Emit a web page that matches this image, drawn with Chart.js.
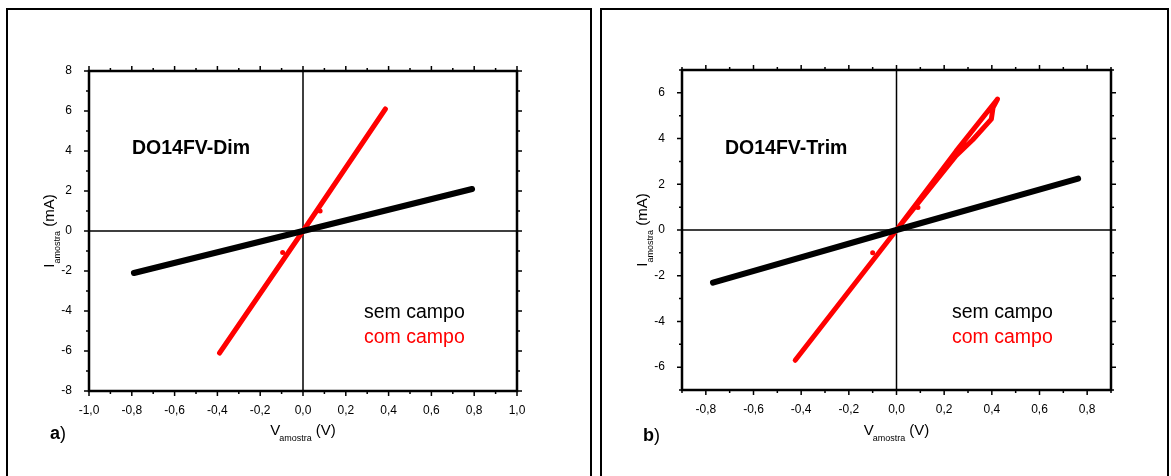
<!DOCTYPE html>
<html>
<head>
<meta charset="utf-8">
<script src="https://cdn.jsdelivr.net/npm/chart.js@4.4.1/dist/chart.umd.min.js"></script>
<style>
body { margin: 0; background: #fff; width: 1171px; height: 476px; overflow: hidden; position: relative; }
.frame { position: absolute; top: 8px; height: 480px; border: 2px solid #000; }
#fa { left: 6px; width: 582px; }
#fb { left: 600px; width: 565px; }
canvas { display: block; }
</style>
</head>
<body>
<div class="frame" id="fa"><canvas id="chartA" width="582" height="466"></canvas></div>
<div class="frame" id="fb"><canvas id="chartB" width="565" height="466"></canvas></div>
<script>
// panel a) DO14FV-Dim
const semCampoA_V = [-0.79, 0, 0.79];
const semCampoA_I = [-2.1, 0, 2.1];
const comCampoA_V = [-0.39, 0, 0.385];
const comCampoA_I = [-6.1, 0, 6.1];
const stubsA_V = [0.08, -0.095];
const stubsA_I = [1.0, -1.08];

// panel b) DO14FV-Trim
const semCampoB_V = [-0.77, 0, 0.762];
const semCampoB_I = [-2.3, 0, 2.25];
const comCampoB_V = [-0.425, 0, 0.25, 0.424, 0.405, 0.398, 0.32, 0.25, 0, -0.425];
const comCampoB_I = [-5.7, 0, 3.45, 5.73, 5.35, 4.85, 3.95, 3.25, 0, -5.7];
const stubsB_V = [0.09, -0.1];
const stubsB_I = [0.98, -1.0];

// tick labels
const xMajorA = [-1.0, -0.8, -0.6, -0.4, -0.2, 0.0, 0.2, 0.4, 0.6, 0.8, 1.0];
const xMinorA = [-0.9, -0.7, -0.5, -0.3, -0.1, 0.1, 0.3, 0.5, 0.7, 0.9];
const yMajorA = [-8, -6, -4, -2, 0, 2, 4, 6, 8];
const yMinorA = [-7, -5, -3, -1, 1, 3, 5, 7];
const xMajorB = [-0.8, -0.6, -0.4, -0.2, 0.0, 0.2, 0.4, 0.6, 0.8];
const xMinorB = [-0.9, -0.7, -0.5, -0.3, -0.1, 0.1, 0.3, 0.5, 0.7, 0.9];
const yMajorB = [-6, -4, -2, 0, 2, 4, 6];
const yMinorB = [-7, -5, -3, -1, 1, 3, 5, 7];

const FONT = '"Liberation Sans", Arial, sans-serif';
Chart.defaults.font.family = FONT;
Chart.defaults.color = '#000';

function zip(xs, ys) {
  return xs.map((x, i) => ({ x: x, y: ys[i] }));
}

function font(size, bold) {
  return (bold ? 'bold ' : '') + size + 'px ' + FONT;
}

// zero lines, box with ticks on all sides, and the texts
const decor = {
  id: 'decor',
  beforeDatasetsDraw(chart, args, p) {
    const { ctx, chartArea: a, scales: { x, y } } = chart;
    const x0 = x.getPixelForValue(0), y0 = y.getPixelForValue(0);
    ctx.save();
    ctx.strokeStyle = '#000';
    ctx.lineWidth = 1.5;
    ctx.beginPath();
    ctx.moveTo(a.left, y0); ctx.lineTo(a.right, y0);
    ctx.moveTo(x0, a.top); ctx.lineTo(x0, a.bottom);
    ctx.stroke();
    ctx.restore();
  },
  afterDraw(chart, args, p) {
    const { ctx, chartArea: a, scales: { x, y } } = chart;
    ctx.save();
    ctx.strokeStyle = '#000';
    ctx.lineWidth = 1.5;
    ctx.beginPath();
    const tick = (vals, len) => {
      vals.forEach(v => {
        const px = x.getPixelForValue(v);
        ctx.moveTo(px, a.bottom); ctx.lineTo(px, a.bottom + len);
        ctx.moveTo(px, a.top); ctx.lineTo(px, a.top - len);
      });
    };
    const ticky = (vals, len) => {
      vals.forEach(v => {
        const py = y.getPixelForValue(v);
        ctx.moveTo(a.left, py); ctx.lineTo(a.left - len, py);
        ctx.moveTo(a.right, py); ctx.lineTo(a.right + len, py);
      });
    };
    tick(p.xMajor, 5); tick(p.xMinor, 3);
    ticky(p.yMajor, 5); ticky(p.yMinor, 3);
    ctx.stroke();
    ctx.lineWidth = 2.5;
    ctx.strokeRect(a.left, a.top, a.right - a.left, a.bottom - a.top);

    ctx.fillStyle = '#000';
    ctx.textBaseline = 'alphabetic';
    ctx.textAlign = 'left';

    // x title: V_amostra (V)
    const parts = (main1, sub, main2) => {
      ctx.font = font(15); const w1 = ctx.measureText(main1).width;
      ctx.font = font(9); const ws = ctx.measureText(sub).width;
      ctx.font = font(15); const w2 = ctx.measureText(main2).width;
      return [w1, ws, w2];
    };
    let [w1, ws, w2] = parts('V', 'amostra', ' (V)');
    let total = w1 - 1 + ws + w2;
    let sx = (a.left + a.right) / 2 - total / 2;
    ctx.font = font(15); ctx.fillText('V', sx, p.xTitleY);
    ctx.font = font(9); ctx.fillText('amostra', sx + w1 - 1, p.xTitleY + 6);
    ctx.font = font(15); ctx.fillText(' (V)', sx + w1 - 1 + ws, p.xTitleY);

    // y title: I_amostra (mA), rotated
    [w1, ws, w2] = parts('I', 'amostra', ' (mA)');
    total = w1 + ws + w2;
    ctx.save();
    ctx.translate(p.yTitleX, (a.top + a.bottom) / 2);
    ctx.rotate(-Math.PI / 2);
    sx = -total / 2;
    ctx.font = font(15); ctx.fillText('I', sx, 0);
    ctx.font = font(9); ctx.fillText('amostra', sx + w1, 6);
    ctx.font = font(15); ctx.fillText(' (mA)', sx + w1 + ws, 0);
    ctx.restore();

    // sample name
    ctx.font = font(19.5, true);
    ctx.fillText(p.name, p.nameX, p.nameY);

    // legend texts
    ctx.font = font(19.5);
    ctx.fillStyle = '#000';
    ctx.fillText('sem campo', p.legX, p.legY);
    ctx.fillStyle = '#ff0000';
    ctx.fillText('com campo', p.legX, p.legY + 25);

    // panel letter
    ctx.fillStyle = '#000';
    ctx.font = font(18, true);
    const wl = ctx.measureText(p.letter).width;
    ctx.fillText(p.letter, p.letterX, p.letterY);
    ctx.font = font(18);
    ctx.fillText(')', p.letterX + wl, p.letterY);
    ctx.restore();
  }
};

function buildChart(id, p) {
  return new Chart(document.getElementById(id), {
    type: 'scatter',
    data: {
      datasets: [
        { data: zip(p.semV, p.semI), showLine: true, borderColor: '#000', borderWidth: 6,
          pointRadius: 0, borderCapStyle: 'round', borderJoinStyle: 'round' },
        { data: zip(p.comV, p.comI), showLine: true, borderColor: '#ff0000', borderWidth: 5,
          pointRadius: 0, borderCapStyle: 'round', borderJoinStyle: 'round' },
        { data: zip(p.stubV, p.stubI), showLine: false, pointRadius: 2.5,
          backgroundColor: '#ff0000', borderWidth: 0 }
      ]
    },
    options: {
      responsive: false,
      animation: false,
      devicePixelRatio: 1,
      layout: { padding: { left: 0, top: p.top, right: p.right, bottom: p.bottom } },
      plugins: { legend: { display: false }, tooltip: { enabled: false }, decor: p },
      scales: {
        x: {
          type: 'linear', min: p.xMin, max: p.xMax,
          afterBuildTicks: s => { s.ticks = p.xMajor.map(v => ({ value: v })); },
          afterFit: s => { s.height = 40; },
          grid: { display: false }, border: { display: false },
          ticks: { padding: 4, font: { size: 12 }, color: '#000', autoSkip: false, maxRotation: 0,
                   callback: v => v.toFixed(1).replace('.', ',') }
        },
        y: {
          type: 'linear', min: p.yMin, max: p.yMax,
          afterBuildTicks: s => { s.ticks = p.yMajor.map(v => ({ value: v })); },
          afterFit: s => { s.width = p.yw; },
          grid: { display: false }, border: { display: false },
          ticks: { padding: 9, font: { size: 12 }, color: '#000', autoSkip: false,
                   callback: v => String(v) }
        }
      }
    },
    plugins: [decor]
  });
}

buildChart('chartA', {
  semV: semCampoA_V, semI: semCampoA_I, comV: comCampoA_V, comI: comCampoA_I,
  stubV: stubsA_V, stubI: stubsA_I,
  xMin: -1, xMax: 1, yMin: -8, yMax: 8,
  xMajor: xMajorA, xMinor: xMinorA, yMajor: yMajorA, yMinor: yMinorA,
  top: 61, right: 73, bottom: 45, yw: 81,
  xTitleY: 425, yTitleX: 46,
  name: 'DO14FV-Dim', nameX: 124, nameY: 144,
  legX: 356, legY: 308,
  letter: 'a', letterX: 42, letterY: 429
});

buildChart('chartB', {
  semV: semCampoB_V, semI: semCampoB_I, comV: comCampoB_V, comI: comCampoB_I,
  stubV: stubsB_V, stubI: stubsB_I,
  xMin: -0.9, xMax: 0.9, yMin: -7, yMax: 7,
  xMajor: xMajorB, xMinor: xMinorB, yMajor: yMajorB, yMinor: yMinorB,
  top: 60, right: 56, bottom: 46, yw: 80,
  xTitleY: 425, yTitleX: 45,
  name: 'DO14FV-Trim', nameX: 123, nameY: 144,
  legX: 350, legY: 308,
  letter: 'b', letterX: 41, letterY: 431
});
</script>
</body>
</html>
